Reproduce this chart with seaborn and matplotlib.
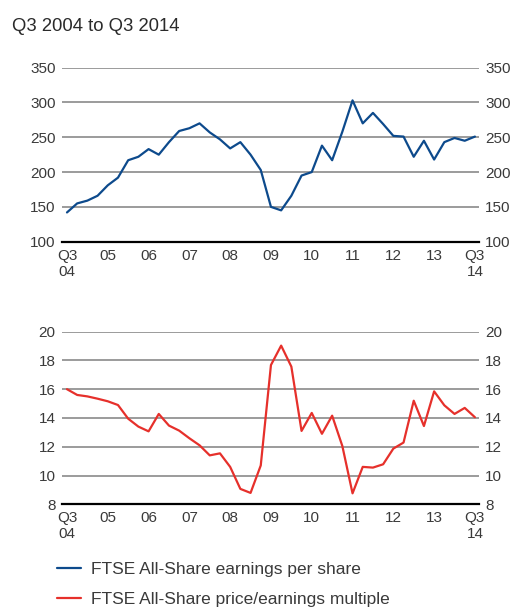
import matplotlib
matplotlib.use("Agg")
import matplotlib.pyplot as plt
import seaborn as sns
import pandas as pd

# quarterly data, Q3 2004 .. Q3 2014
quarters = list(range(41))
eps = [142, 155, 159, 166, 181, 192, 217, 222, 233, 225,
       243, 259, 263, 270, 257, 247, 234, 243, 225, 203,
       150, 145, 166, 195, 200, 238, 217, 258, 303, 270,
       285, 269, 252, 251, 222, 245, 218, 243, 249, 245, 251]
pe = [16.0, 15.6, 15.5, 15.34, 15.16, 14.9, 13.95, 13.4, 13.07, 14.28,
      13.47, 13.12, 12.59, 12.1, 11.4, 11.54, 10.6, 9.07, 8.79, 10.7,
      17.68, 19.03, 17.57, 13.1, 14.35, 12.9, 14.16, 12.05, 8.76, 10.6,
      10.55, 10.78, 11.87, 12.29, 15.2, 13.44, 15.85, 14.88, 14.28, 14.7, 14.05]

xtick_pos = [0, 4, 8, 12, 16, 20, 24, 28, 32, 36, 40]
xtick_labels = ["Q3\n04", "05", "06", "07", "08", "09", "10", "11", "12", "13", "Q3\n14"]

eps_label = "FTSE All-Share earnings per share"
pe_label = "FTSE All-Share price/earnings multiple"

df = pd.DataFrame({"q": quarters, "eps": eps, "pe": pe})

sns.set_style("white")
plt.rcParams["font.family"] = ["Liberation Sans", "DejaVu Sans"]

blue = "#0d4a8c"
red = "#e6302b"
text_col = "#3a3a3a"

fig = plt.figure(figsize=(5.17, 6.08), dpi=100)
ax1 = fig.add_axes([0.1199, 0.6025, 0.8066, 0.2862])
ax2 = fig.add_axes([0.1199, 0.1706, 0.8066, 0.2839])

sns.lineplot(data=df, x="q", y="eps", ax=ax1, color=blue, linewidth=1.6, label=eps_label, legend=False)
sns.lineplot(data=df, x="q", y="pe", ax=ax2, color=red, linewidth=1.6, label=pe_label, legend=False)

def style(ax, ylim, yticks):
    ax.set_xlim(-0.49, 40.4)
    ax.set_ylim(*ylim)
    ax.set_yticks(yticks)
    ax.set_xticks(xtick_pos)
    ax.set_xticklabels(xtick_labels)
    ax.set_xlabel("")
    ax.set_ylabel("")
    for s in ["top", "left", "right"]:
        ax.spines[s].set_visible(False)
    ax.spines["bottom"].set_color("black")
    ax.spines["bottom"].set_linewidth(1.6)
    ax.grid(axis="y", color="#8a8a8a", linewidth=1.2)
    ax.set_axisbelow(True)
    ax.tick_params(axis="y", length=0, pad=4.5, labelleft=True, labelright=True,
                   labelsize=11, labelcolor=text_col)
    ax.tick_params(axis="x", length=0, pad=5, labelsize=11, labelcolor=text_col)

style(ax1, (100, 350), [100, 150, 200, 250, 300, 350])
style(ax2, (8, 20), [8, 10, 12, 14, 16, 18, 20])

fig.text(12 / 517, 0.957, "Q3 2004 to Q3 2014", fontsize=13.3, color="#2a2a2a", va="center")

handles = [ax1.get_lines()[0], ax2.get_lines()[0]]
fig.legend(handles, [eps_label, pe_label], loc="upper left", bbox_to_anchor=(0.111, 0.076),
           frameon=False, fontsize=12.5, handlelength=1.35, handletextpad=0.6,
           labelspacing=0.84, borderpad=0, borderaxespad=0, labelcolor=text_col)

fig.savefig("out.png", dpi=100)
